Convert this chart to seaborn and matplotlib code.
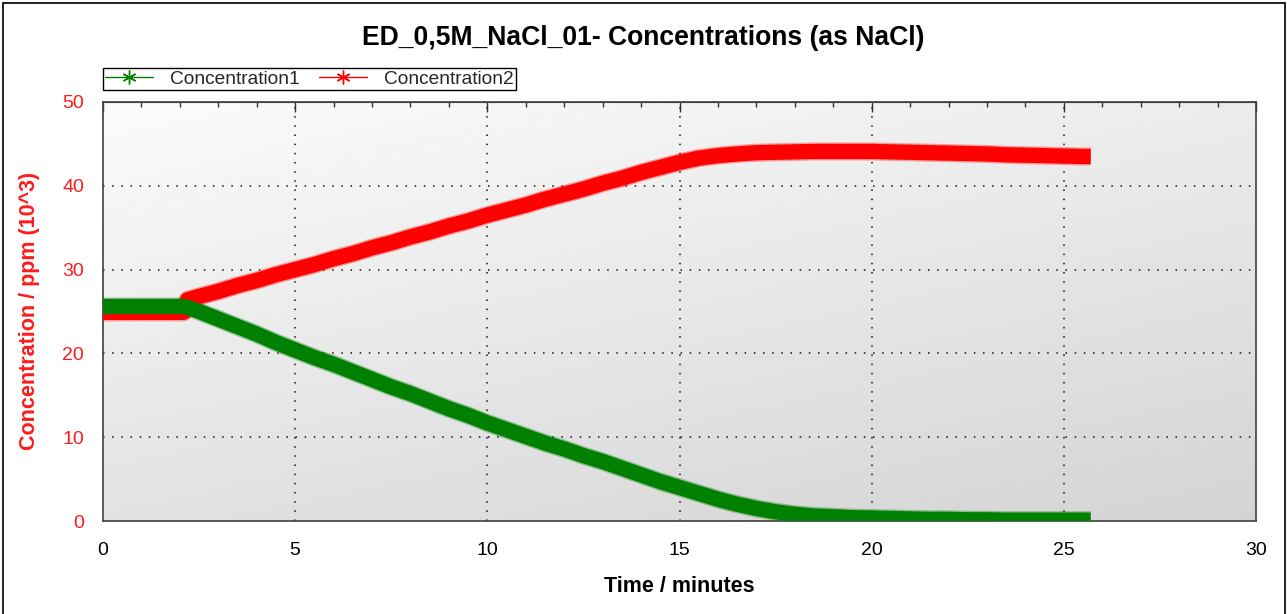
import numpy as np
import pandas as pd
import matplotlib
matplotlib.use("Agg")
import matplotlib.pyplot as plt
from matplotlib.lines import Line2D
from matplotlib.patches import Rectangle
from matplotlib.ticker import MultipleLocator
import seaborn as sns

# ---------------- data ----------------
time_min = [0.0, 0.5, 1.0, 1.5, 2.0, 2.1, 2.2, 2.5, 3.0, 3.5, 4.0, 4.5, 5.0, 5.5, 6.0, 6.5,
            7.0, 7.5, 8.0, 8.5, 9.0, 9.5, 10.0, 10.5, 11.0, 11.5, 12.0, 12.5, 13.0, 13.5,
            14.0, 14.5, 15.0, 15.5, 16.0, 16.5, 17.0, 17.5, 18.0, 18.5, 19.0, 19.5, 20.0,
            20.5, 21.0, 21.5, 22.0, 22.5, 23.0, 23.5, 24.0, 24.5, 25.0, 25.5, 25.7]

concentration1 = [25.6, 25.6, 25.6, 25.6, 25.6, 25.6, 25.5, 25.0, 24.1, 23.2, 22.3, 21.3, 20.4,
                  19.5, 18.7, 17.8, 16.9, 16.0, 15.2, 14.3, 13.4, 12.6, 11.7, 10.9, 10.1, 9.3,
                  8.6, 7.8, 7.1, 6.3, 5.5, 4.7, 4.0, 3.3, 2.6, 2.0, 1.5, 1.1, 0.8, 0.6, 0.5,
                  0.4, 0.35, 0.3, 0.25, 0.2, 0.2, 0.15, 0.15, 0.1, 0.1, 0.1, 0.1, 0.1, 0.1]

concentration2 = [24.9, 24.9, 24.9, 24.9, 24.9, 24.9, 26.4, 26.8, 27.4, 28.1, 28.7, 29.4, 30.0,
                  30.6, 31.3, 31.9, 32.6, 33.2, 33.9, 34.5, 35.2, 35.8, 36.5, 37.1, 37.7, 38.4,
                  39.0, 39.6, 40.3, 40.9, 41.6, 42.2, 42.8, 43.3, 43.6, 43.8, 43.95, 44.0, 44.05,
                  44.1, 44.1, 44.1, 44.1, 44.05, 44.0, 43.95, 43.9, 43.85, 43.8, 43.7, 43.65,
                  43.6, 43.55, 43.5, 43.5]

series_names = ["Concentration1", "Concentration2"]
series_colors = ["#008000", "#ff0000"]

title_text = "ED_0,5M_NaCl_01- Concentrations (as NaCl)"
xlabel_text = "Time / minutes"
ylabel_text = "Concentration / ppm (10^3)"
x_ticks = [0, 5, 10, 15, 20, 25, 30]
y_ticks = [0, 10, 20, 30, 40, 50]

# ---------------- figure ----------------
sns.set_style("white")
plt.rcParams["font.family"] = ["Liberation Sans", "DejaVu Sans"]

fig = plt.figure(figsize=(12.87, 6.14), dpi=100)
ax = fig.add_axes([103 / 1287, 1 - 521 / 614, (1256 - 103) / 1287, (521 - 102) / 614])

# gradient background of the plot area
gy, gx = np.mgrid[0:1:200j, 0:1:200j]
tl, tr, bl, br = 0.985, 0.925, 0.885, 0.830
grad = (tl * (1 - gx) * (1 - gy) + tr * gx * (1 - gy) + bl * (1 - gx) * gy + br * gx * gy)
ax.imshow(grad, cmap="gray", vmin=0, vmax=1, extent=[0, 1, 0, 1], transform=ax.transAxes,
          aspect="auto", zorder=0, interpolation="bilinear")

df = pd.DataFrame({"t": time_min, series_names[0]: concentration1, series_names[1]: concentration2})
long = df.melt(id_vars="t", var_name="series", value_name="conc")

# draw red first, green on top (as in the reference flat part)
for name, col in [(series_names[1], series_colors[1]), (series_names[0], series_colors[0])]:
    sub = long[long["series"] == name]
    sns.lineplot(data=sub, x="t", y="conc", color=col, linewidth=13, alpha=0.35, estimator=None,
                 sort=False, legend=False, ax=ax, zorder=3, solid_capstyle="butt")
    sns.lineplot(data=sub, x="t", y="conc", color=col, linewidth=11, estimator=None,
                 sort=False, legend=False, ax=ax, zorder=3.1, solid_capstyle="butt")

ax.set_xlim(0, 30)
ax.set_ylim(0, 50)
ax.set_xticks(x_ticks)
ax.set_yticks(y_ticks)
ax.xaxis.set_minor_locator(MultipleLocator(1))
ax.yaxis.set_minor_locator(MultipleLocator(2))

ax.tick_params(axis="both", which="major", direction="inout", length=11.5, width=1.1,
               color="#333333", labelsize=14)
ax.tick_params(axis="both", which="minor", direction="inout", length=5.8, width=1.0,
               color="#333333")
ax.tick_params(axis="x", which="major", pad=9.5, labelcolor="black")
ax.tick_params(axis="y", which="major", pad=8, labelcolor="#ff1a1a")

# top ticks pointing inward
sec = ax.secondary_xaxis("top")
sec.set_xticks(x_ticks)
sec.xaxis.set_minor_locator(MultipleLocator(1))
sec.tick_params(which="major", direction="in", length=7, width=1.0, color="#333333",
                labeltop=False)
sec.tick_params(which="minor", direction="in", length=3.5, width=1.0, color="#333333")
sec.set_xticklabels([])
sec.spines["top"].set_color("#333333")

for s in ax.spines.values():
    s.set_color("#404040")
    s.set_linewidth(1.2)
    s.set_visible(True)

# dotted grid at interior major ticks
for xv in x_ticks[1:-1]:
    ax.axvline(xv, color="#111111", linestyle=(0, (1, 5)), linewidth=1.1, zorder=1)
for yv in y_ticks[1:-1]:
    ax.axhline(yv, color="#111111", linestyle=(0, (1, 5)), linewidth=1.1, zorder=1)

ax.set_xlabel(xlabel_text, fontsize=15.5, fontweight="bold", color="black", labelpad=12)
ax.set_ylabel("")
fig.text(30 / 1287, 1 - 311 / 614, ylabel_text, rotation=90, ha="center", va="center",
         fontsize=15.5, fontweight="bold", color="#ff1a1a")
fig.text(0.5, 1 - 38 / 614, title_text, ha="center", va="center", fontsize=19.1,
         fontweight="bold", color="black")

handles = [Line2D([], [], color=c, lw=1.0, marker=(6, 2, 0), markersize=10, markeredgewidth=1.0)
           for c in series_colors]
leg = ax.legend(handles, series_names, loc="lower left", bbox_to_anchor=(0, 1 + 12 / 419),
                borderaxespad=0, ncol=2, fontsize=13.8, frameon=True, fancybox=False,
                borderpad=0.12, handlelength=2.5, handletextpad=0.9, columnspacing=1.0)
leg.get_frame().set_edgecolor("black")
leg.get_frame().set_linewidth(1.0)
leg.get_frame().set_facecolor("white")
leg.get_frame().set_alpha(1.0)

# outer border of the figure
fig.add_artist(Rectangle((2.5 / 1287, -0.02), (1284.5 - 2.5) / 1287, 1.02 - 3.5 / 614,
                         transform=fig.transFigure, fill=False, edgecolor="#111111",
                         linewidth=1.3))

fig.savefig("out.png", dpi=100, facecolor="white")
